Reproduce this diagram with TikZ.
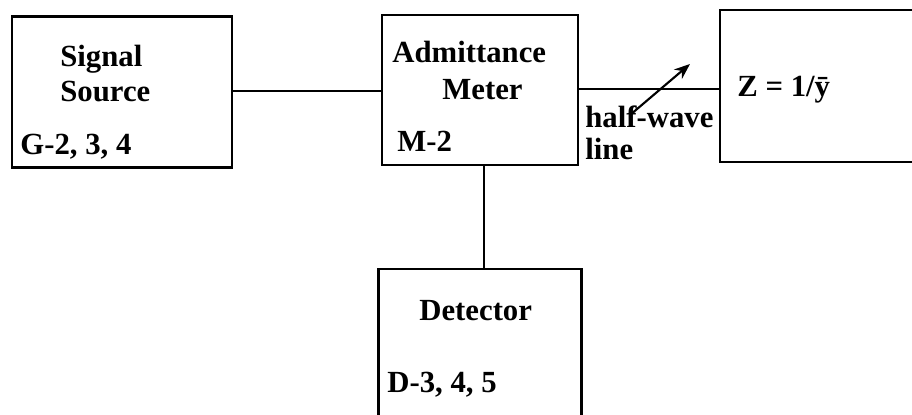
\documentclass[tikz,border=0pt]{standalone}
\usepackage{fontspec}
\setmainfont{Liberation Serif}
\usetikzlibrary{arrows.meta}
\begin{document}
\begin{tikzpicture}[x=0.02cm, y=-0.02cm,
    blockbox/.style={draw, rectangle, line width=1.4pt, inner sep=0pt},
    lbl/.style={anchor=base west, inner sep=0pt, font=\fontsize{17.5}{20}\selectfont\bfseries},
    wire/.style={line width=1.4pt}]
    \useasboundingbox (0,0) rectangle (912,415);

    \node[blockbox, minimum width=220*0.02cm, minimum height=151*0.02cm] (src) at (122,92) {};
    \node[blockbox, minimum width=196*0.02cm, minimum height=150*0.02cm] (adm) at (480,90) {};
    \node[blockbox, minimum width=300*0.02cm, minimum height=152*0.02cm] (load) at (870,86) {};
    \node[blockbox, minimum width=203*0.02cm, minimum height=190*0.02cm] (det) at (480,364) {};

    \node[lbl] (srcA) at (60,67) {Signal};
    \node[lbl] (srcB) at (60,102) {Source};
    \node[lbl] (srcC) at (20,155) {G-2, 3, 4};

    \node[lbl] (admA) at (392,63) {Admittance};
    \node[lbl] (admB) at (442,100) {Meter};
    \node[lbl] (admC) at (397,152) {M-2};

    \node[lbl] (loadA) at (737,97) {Z = 1/\={y}};

    \node[lbl] (detA) at (419,320) {Detector};
    \node[lbl] (detB) at (387,392) {D-3, 4, 5};

    \node[lbl] (hw) at (585,128) {half-wave};
    \node[lbl] (ln) at (585,160) {line};

    \draw[wire] (src.east |- 0,91) -- (adm.west |- 0,91);
    \draw[wire] (adm.east |- 0,89) -- (load.west |- 0,89);
    \draw[wire] (484,0 |- adm.south) -- (484,0 |- det.north);

    \coordinate (tailA) at (630,115);
    \coordinate (headA) at (690,64);
    \draw[line width=1.2pt, -{Stealth[length=9pt, width=7pt]}] (tailA) -- (headA);
\end{tikzpicture}
\end{document}
